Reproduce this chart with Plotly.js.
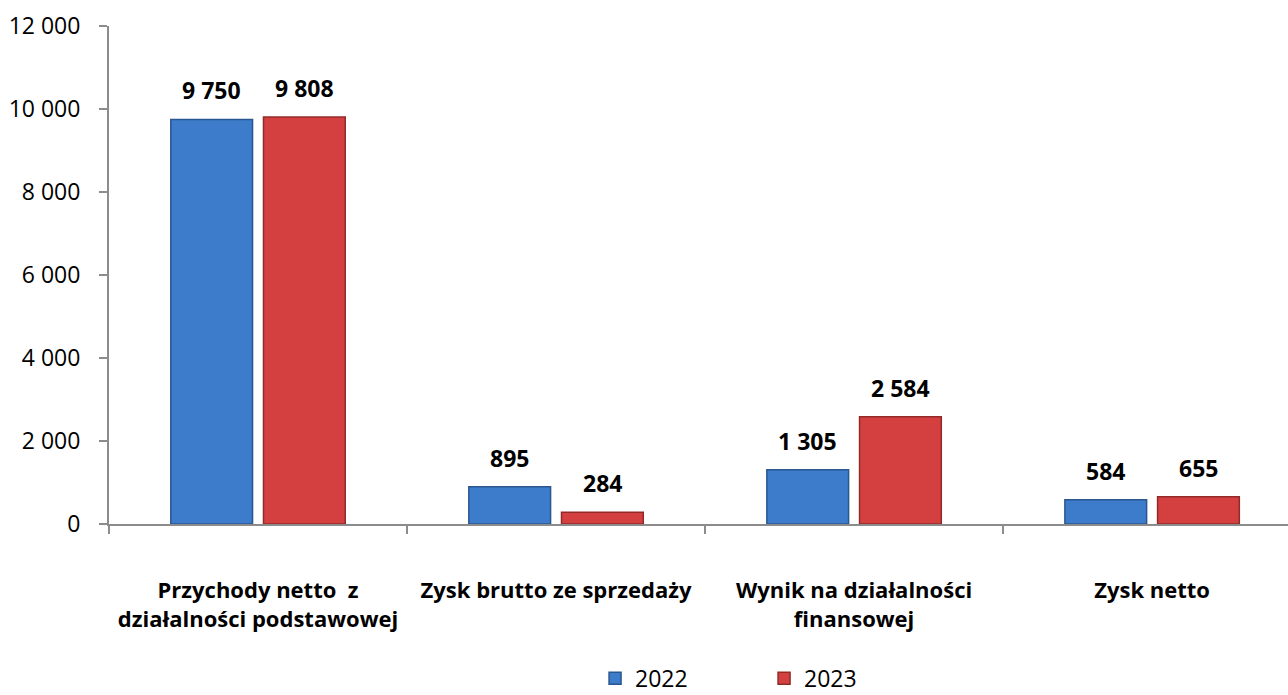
<!DOCTYPE html>
<html><head><meta charset="utf-8">
<script src="https://cdn.plot.ly/plotly-3.0.1.min.js"></script>
<style>html,body{margin:0;padding:0;background:#fff}#c{width:1288px;height:695px}</style>
</head><body><div id="c"></div>
<script>
const categories = ["Przychody netto  z<br>działalności podstawowej", "Zysk brutto ze sprzedaży", "Wynik na działalności<br>finansowej", "Zysk netto"];
const years = ["2022", "2023"];
const values2022 = [9750, 895, 1305, 584];
const values2023 = [9808, 284, 2584, 655];
const yTicks = [0, 2000, 4000, 6000, 8000, 10000, 12000];

const font = "'Open Sans', sans-serif";
const bargap = 0.378, groupgap = 0.118;
const half = (1 - bargap) / 4;
const mk = (name, y, color, line) => ({
  type: 'bar', name: name, x: categories, y: y,
  marker: {color: color, line: {color: line, width: 1.5}},
  hoverinfo: 'x+y'
});
const data = [mk(years[0], values2022, '#3d7bcb', '#2a5790'), mk(years[1], values2023, '#d44040', '#922a2a')];
const fmt = v => String(v).replace(/\B(?=(\d{3})+(?!\d))/g, ' ');
const annotations = [];
[values2022, values2023].forEach((vals, s) => {
  vals.forEach((v, i) => {
    annotations.push({xref: 'x', yref: 'y', x: i + (s === 0 ? -half : half), y: v,
      text: '<b>' + fmt(v) + '</b>', showarrow: false, yanchor: 'bottom', yshift: 11,
      font: {family: font, size: 23, color: '#000'}});
  });
});
const layout = {
  width: 1288, height: 695,
  margin: {l: 109, r: 0, t: 26, b: 171},
  separators: ', ',
  barmode: 'group', bargap: bargap, bargroupgap: groupgap,
  plot_bgcolor: '#fff', paper_bgcolor: '#fff',
  font: {family: font, size: 20, color: '#000'},
  showlegend: true,
  annotations: annotations,
  legend: {orientation: 'h', x: 0.462, xanchor: 'left', xref: 'container', yref: 'container', y: 0.055, yanchor: 'top',
           font: {size: 23, family: font}, entrywidth: 124, itemwidth: 30},
  xaxis: {range: [-0.5, 3.456], showline: true, linecolor: '#8c8c8c', linewidth: 2, automargin: false,
          ticks: 'outside', tickson: 'boundaries', ticklen: 8, tickcolor: '#8c8c8c', tickwidth: 2,
          ticklabelstandoff: 46,
          tickfont: {family: font, size: 22, color: '#000', weight: 'bold'}},
  yaxis: {range: [0, 12000], tickvals: yTicks, tickformat: ',d', showgrid: false, zeroline: false, automargin: false,
          showline: true, linecolor: '#8c8c8c', linewidth: 2, ticks: 'outside', ticklen: 8, ticklabelstandoff: 14,
          tickcolor: '#8c8c8c', tickwidth: 2, tickfont: {family: font, size: 23, color: '#000'}}
};
Plotly.newPlot('c', data, layout, {displayModeBar: false});
</script></body></html>
